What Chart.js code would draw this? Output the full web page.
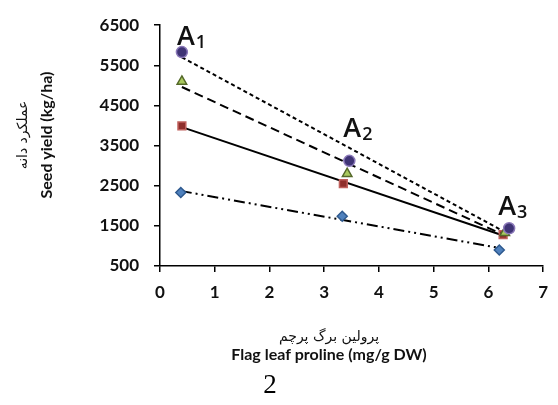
<!DOCTYPE html>
<html>
<head>
<meta charset="utf-8">
<script src="https://cdn.jsdelivr.net/npm/chart.js@4.4.1/dist/chart.umd.min.js"></script>
<style>
  html, body { margin: 0; padding: 0; background: #fff; }
  #wrap { position: relative; width: 558px; height: 405px; }
</style>
</head>
<body>
<div id="wrap"><canvas id="grafico" width="558" height="405"></canvas></div>
<script>
// Valores (prolina x rendimento)
const xTicks = [0, 1, 2, 3, 4, 5, 6, 7];
const yTicks = [500, 1500, 2500, 3500, 4500, 5500, 6500];

const circleX = [0.40, 3.46, 6.38];
const circleY = [5830, 3120, 1440];
const triangleX = [0.40, 3.42, 6.30];
const triangleY = [5100, 2800, 1330];
const squareX = [0.40, 3.35, 6.27];
const squareY = [3990, 2550, 1280];
const diamondX = [0.38, 3.33, 6.20];
const diamondY = [2330, 1740, 900];

// linhas de tendencia: valor no inicio e no fim
const circleTrend = [5700, 1290];
const triangleTrend = [4960, 1260];
const squareTrend = [3960, 1260];
const diamondTrend = [2370, 950];

// rotulos A1, A2, A3
const groupLabels = ['1', '2', '3'];
const groupLabelX = [0.31, 3.35, 6.18];
const groupLabelY = [6000, 3720, 1770];

const yTitleFa = 'عملکرد دانه';
const yTitleEn = 'Seed yield (kg/ha)';
const xTitleFa = 'پرولین برگ پرچم';
const xTitleEn = 'Flag leaf proline (mg/g DW)';

function pontos(xs, ys) {
  return xs.map((x, i) => ({ x, y: ys[i] }));
}
function tendencia(xs, t) {
  return [{ x: xs[0], y: t[0] }, { x: xs[xs.length - 1], y: t[1] }];
}

const linha = (data, dash) => ({
  type: 'line', data, borderColor: '#000', borderWidth: 2, borderDash: dash,
  pointRadius: 0, fill: false, order: 2
});
const marcador = (data, style, fill, border, r) => ({
  type: 'scatter', data, pointStyle: style, backgroundColor: fill, borderColor: border,
  borderWidth: 1.5, pointRadius: r, order: 1
});

// Desenha titulos dos eixos, rotulos A e numero da pagina
const extras = {
  id: 'extras',
  afterDraw(chart) {
    const ctx = chart.ctx;
    const xs = chart.scales.x, ys = chart.scales.y;
    ctx.save();
    ctx.fillStyle = '#111';
    groupLabels.forEach((n, i) => {
      const px = xs.getPixelForValue(groupLabelX[i]);
      const py = ys.getPixelForValue(groupLabelY[i]);
      ctx.textAlign = 'left';
      ctx.textBaseline = 'alphabetic';
      ctx.font = '600 27px "Open Sans"';
      ctx.fillText('A', px, py);
      const w = ctx.measureText('A').width;
      ctx.font = '600 18px "Open Sans"';
      ctx.fillText(n, px + w + 1, py + 3);
    });
    // titulo eixo y
    ctx.save();
    ctx.translate(47, 135);
    ctx.rotate(-Math.PI / 2);
    ctx.textAlign = 'center';
    ctx.textBaseline = 'middle';
    ctx.font = 'bold 16px Lato';
    ctx.fillText(yTitleEn, 0, 0);
    ctx.font = '14px "DejaVu Sans"';
    ctx.fillText(yTitleFa, 0, -24);
    ctx.restore();
    // titulo eixo x
    ctx.textAlign = 'center';
    ctx.textBaseline = 'middle';
    ctx.font = '14px "DejaVu Sans"';
    ctx.fillText(xTitleFa, 329, 337);
    ctx.font = 'bold 16px Lato';
    ctx.fillText(xTitleEn, 329, 355);
    ctx.font = '27px "Liberation Serif"';
    ctx.fillStyle = '#000';
    ctx.fillText('2', 270, 386);
    ctx.restore();
  }
};

const eixo = {
  display: true, drawOnChartArea: false, drawTicks: true, tickLength: 6,
  color: '#000', lineWidth: 1.5
};
const fonteTick = { family: 'Lato', weight: 'bold', size: 17 };

new Chart(document.getElementById('grafico'), {
  data: {
    datasets: [
      linha(tendencia(circleX, circleTrend), [4, 3]),
      linha(tendencia(triangleX, triangleTrend), [9, 5]),
      linha(tendencia(squareX, squareTrend), []),
      linha(tendencia(diamondX, diamondTrend), [11, 4, 2, 4, 2, 4]),
      marcador(pontos(circleX, circleY), 'circle', '#3f3475', '#8a78b8', 5.5),
      marcador(pontos(triangleX, triangleY), 'triangle', '#a9c95e', '#55692a', 5.5),
      marcador(pontos(squareX, squareY), 'rect', '#8f2f2c', '#c0605c', 5.5),
      marcador(pontos(diamondX, diamondY), 'rectRot', '#4f81bd', '#2f5a8f', 5)
    ]
  },
  options: {
    responsive: false,
    animation: false,
    layout: { padding: { left: 0, right: 11, top: 16, bottom: 0 } },
    plugins: { legend: { display: false }, tooltip: { enabled: false } },
    scales: {
      x: {
        type: 'linear', min: 0, max: 7,
        afterBuildTicks: s => { s.ticks = xTicks.map(v => ({ value: v })); },
        afterFit: s => { s.height = 139; },
        ticks: { padding: 10, color: '#111', font: fonteTick, callback: v => String(v) },
        grid: eixo,
        border: { display: true, color: '#000', width: 1.5 }
      },
      y: {
        type: 'linear', min: 500, max: 6500,
        afterBuildTicks: s => { s.ticks = yTicks.map(v => ({ value: v })); },
        afterFit: s => { s.width = 160; },
        ticks: { padding: 15, color: '#111', font: fonteTick, callback: v => String(v) },
        grid: eixo,
        border: { display: true, color: '#000', width: 1.5 }
      }
    }
  },
  plugins: [extras]
});
</script>
</body>
</html>
